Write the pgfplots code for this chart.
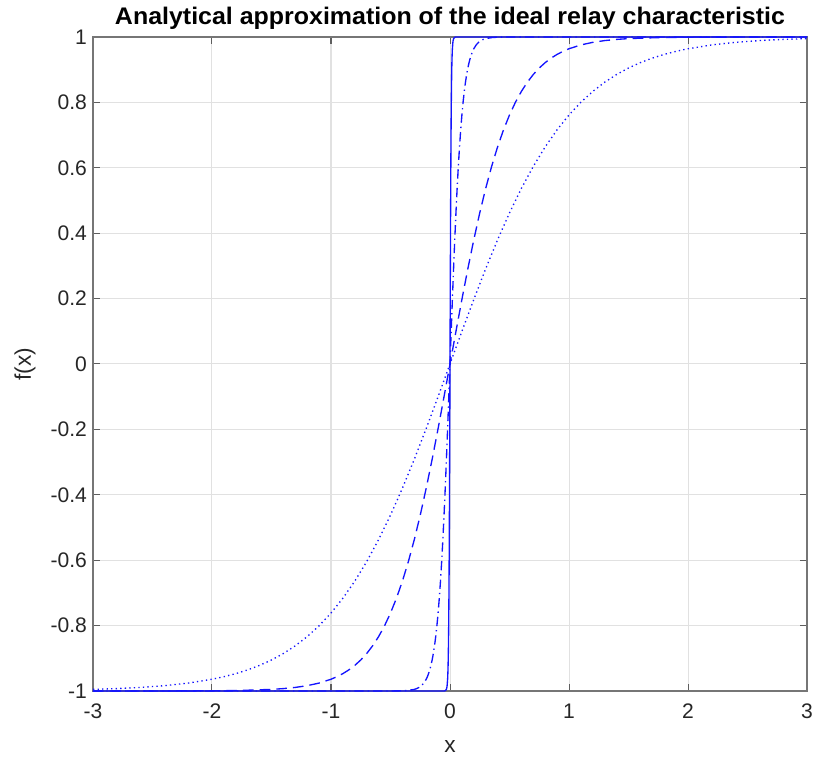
\documentclass[border=0pt]{standalone}
\usepackage{pgfplots}
\pgfplotsset{compat=1.18}
\usepackage{fontspec}
\setmainfont{Liberation Sans}
\newfontfamily\titlefont[FakeStretch=1.04]{Liberation Sans}
\definecolor{axcol}{RGB}{118,118,118}
\definecolor{gridcol}{RGB}{225,225,225}
\definecolor{txtcol}{RGB}{38,38,38}
\definecolor{lblue}{RGB}{20,20,255}
\begin{document}
\begin{tikzpicture}
\useasboundingbox (-69.75pt,-52.5pt) rectangle (540pt,518.25pt);
\begin{axis}[
  at={(0,0)}, anchor=south west,
  scale only axis, width=535.5pt, height=490.5pt,
  xmin=-3, xmax=3, ymin=-1, ymax=1,
  xtick={-3,-2,-1,0,1,2,3},
  ytick={-1,-0.8,-0.6,-0.4,-0.2,0,0.2,0.4,0.6,0.8,1},
  yticklabels={-1,-0.8,-0.6,-0.4,-0.2,0,0.2,0.4,0.6,0.8,1},
  xticklabels={-3,-2,-1,0,1,2,3},
  tick align=inside, major tick length=5pt,
  tick style={axcol!80!black, line width=0.75pt},
  axis line style={axcol, line width=0.9pt},
  grid=major, major grid style={gridcol, line width=0.75pt},
  ticklabel style={font=\fontsize{15.8}{18}\selectfont, text=txtcol},
  /pgf/number format/assume math mode=true,
  xticklabel style={yshift=-6pt},
  yticklabel style={xshift=-1pt},
  title={Analytical approximation of the ideal relay characteristic},
  title style={font=\titlefont\bfseries\fontsize{18}{21}\selectfont, at={(axis description cs:0.5,1)}, anchor=base, yshift=3pt},
  xlabel={x}, ylabel={f(x)},
  xlabel style={font=\fontsize{17}{20}\selectfont, text=txtcol, at={(axis description cs:0.5,0)}, anchor=base, yshift=-45.75pt},
  ylabel style={font=\fontsize{17}{20}\selectfont, text=txtcol, at={(axis description cs:0,0.5)}, anchor=center, yshift=51pt},
  clip=false,
  every axis plot/.append style={lblue, line width=1pt},
]
% dotted: tanh(x)
\addplot[dash pattern=on 1pt off 2.4pt] coordinates {
(-3,-0.99505) (-2.8,-0.99263) (-2.6,-0.98903) (-2.4,-0.98367) (-2.2,-0.97574)
(-2,-0.96403) (-1.9,-0.95624) (-1.8,-0.94681) (-1.7,-0.93541) (-1.6,-0.92167)
(-1.5,-0.90515) (-1.4,-0.88535) (-1.3,-0.86172) (-1.2,-0.83365) (-1.1,-0.80050)
(-1,-0.76159) (-0.9,-0.71630) (-0.8,-0.66404) (-0.7,-0.60437) (-0.6,-0.53705)
(-0.5,-0.46212) (-0.4,-0.37995) (-0.3,-0.29131) (-0.2,-0.19738) (-0.1,-0.09967)
(0,0)
(0.1,0.09967) (0.2,0.19738) (0.3,0.29131) (0.4,0.37995) (0.5,0.46212)
(0.6,0.53705) (0.7,0.60437) (0.8,0.66404) (0.9,0.71630) (1,0.76159)
(1.1,0.80050) (1.2,0.83365) (1.3,0.86172) (1.4,0.88535) (1.5,0.90515)
(1.6,0.92167) (1.7,0.93541) (1.8,0.94681) (1.9,0.95624) (2,0.96403)
(2.2,0.97574) (2.4,0.98367) (2.6,0.98903) (2.8,0.99263) (3,0.99505)
};
% dashed: tanh(2x)
\addplot[dash pattern=on 8pt off 4.5pt] coordinates {
(-3,-0.99999) (-2.5,-0.99991) (-2,-0.99933) (-1.75,-0.99818) (-1.5,-0.99505)
(-1.4,-0.99263) (-1.3,-0.98903) (-1.2,-0.98367) (-1.1,-0.97574) (-1,-0.96403)
(-0.95,-0.95624) (-0.9,-0.94681) (-0.85,-0.93541) (-0.8,-0.92167) (-0.75,-0.90515)
(-0.7,-0.88535) (-0.65,-0.86172) (-0.6,-0.83365) (-0.55,-0.80050) (-0.5,-0.76159)
(-0.45,-0.71630) (-0.4,-0.66404) (-0.35,-0.60437) (-0.3,-0.53705) (-0.25,-0.46212)
(-0.2,-0.37995) (-0.15,-0.29131) (-0.1,-0.19738) (-0.05,-0.09967) (0,0)
(0.05,0.09967) (0.1,0.19738) (0.15,0.29131) (0.2,0.37995) (0.25,0.46212)
(0.3,0.53705) (0.35,0.60437) (0.4,0.66404) (0.45,0.71630) (0.5,0.76159)
(0.55,0.80050) (0.6,0.83365) (0.65,0.86172) (0.7,0.88535) (0.75,0.90515)
(0.8,0.92167) (0.85,0.93541) (0.9,0.94681) (0.95,0.95624) (1,0.96403)
(1.1,0.97574) (1.2,0.98367) (1.3,0.98903) (1.4,0.99263) (1.5,0.99505)
(1.75,0.99818) (2,0.99933) (2.5,0.99991) (3,0.99999)
};
% dash-dot: tanh(10x)
\addplot[dash pattern=on 7pt off 3pt on 1pt off 3pt] coordinates {
(-3,-1) (-0.6,-0.99999) (-0.5,-0.99991) (-0.4,-0.99933) (-0.35,-0.99818)
(-0.3,-0.99505) (-0.28,-0.99263) (-0.26,-0.98903) (-0.24,-0.98367) (-0.22,-0.97574)
(-0.2,-0.96403) (-0.19,-0.95624) (-0.18,-0.94681) (-0.17,-0.93541) (-0.16,-0.92167)
(-0.15,-0.90515) (-0.14,-0.88535) (-0.13,-0.86172) (-0.12,-0.83365) (-0.11,-0.80050)
(-0.1,-0.76159) (-0.09,-0.71630) (-0.08,-0.66404) (-0.07,-0.60437) (-0.06,-0.53705)
(-0.05,-0.46212) (-0.04,-0.37995) (-0.03,-0.29131) (-0.02,-0.19738) (-0.01,-0.09967)
(0,0)
(0.01,0.09967) (0.02,0.19738) (0.03,0.29131) (0.04,0.37995) (0.05,0.46212)
(0.06,0.53705) (0.07,0.60437) (0.08,0.66404) (0.09,0.71630) (0.1,0.76159)
(0.11,0.80050) (0.12,0.83365) (0.13,0.86172) (0.14,0.88535) (0.15,0.90515)
(0.16,0.92167) (0.17,0.93541) (0.18,0.94681) (0.19,0.95624) (0.2,0.96403)
(0.22,0.97574) (0.24,0.98367) (0.26,0.98903) (0.28,0.99263) (0.3,0.99505)
(0.35,0.99818) (0.4,0.99933) (0.5,0.99991) (0.6,0.99999) (3,1)
};
% solid: tanh(100x)
\addplot[solid] coordinates {
(-3,-1) (-0.05,-0.99991) (-0.04,-0.99933) (-0.03,-0.99505) (-0.025,-0.98661)
(-0.02,-0.96403) (-0.018,-0.94681) (-0.016,-0.92167) (-0.014,-0.88535) (-0.012,-0.83365)
(-0.01,-0.76159) (-0.008,-0.66404) (-0.006,-0.53705) (-0.004,-0.37995) (-0.002,-0.19738)
(0,0)
(0.002,0.19738) (0.004,0.37995) (0.006,0.53705) (0.008,0.66404) (0.01,0.76159)
(0.012,0.83365) (0.014,0.88535) (0.016,0.92167) (0.018,0.94681) (0.02,0.96403)
(0.025,0.98661) (0.03,0.99505) (0.04,0.99933) (0.05,0.99991) (3,1)
};
\end{axis}
\end{tikzpicture}
\end{document}
